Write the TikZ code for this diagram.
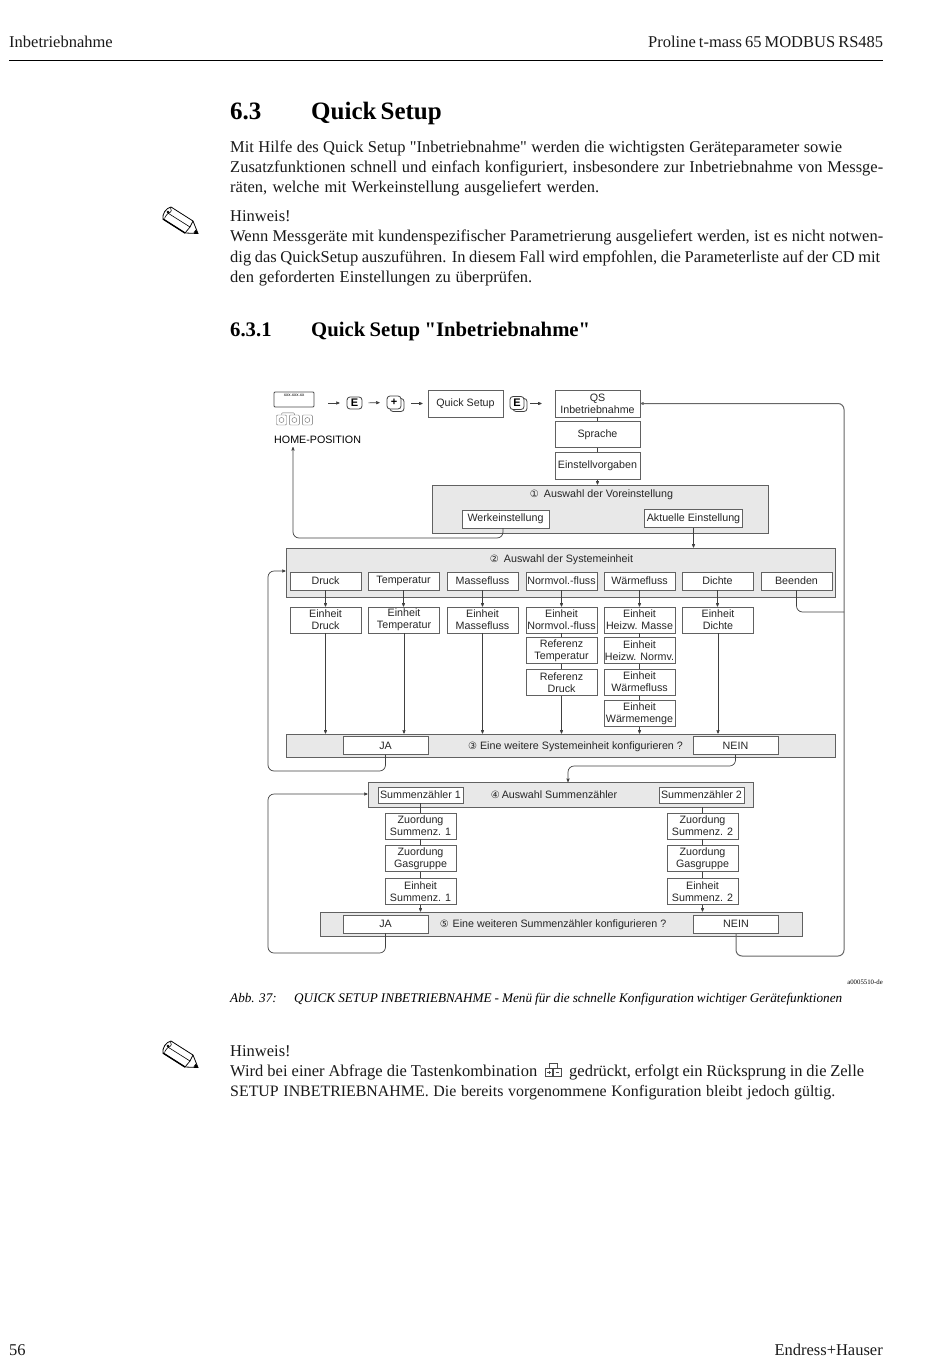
\documentclass[tikz,border=0pt]{standalone}
\usepackage{fontspec}
\setmainfont{Liberation Serif}[Ligatures=TeXOff]
\setsansfont{Liberation Sans}
\newfontfamily\circfont{DejaVu Sans}
\usetikzlibrary{positioning,arrows.meta}
\newcommand{\fitline}[2]{\makebox[#1pt][s]{#2}}
\newcommand{\circnum}[1]{{\circfont\fontsize{10}{12}\selectfont #1}}
\begin{document}
\begin{tikzpicture}[
x=1pt, y=-1pt,
font=\sffamily\fontsize{10.7}{12}\selectfont,
linegray/.style={draw=black!62, line width=0.8pt},
panel/.style={linegray, fill=black!9, inner sep=0pt},
whitebox/.style={linegray, fill=white, inner sep=0pt, align=center, text=black!85},
unitbox/.style={whitebox, minimum width=71pt, minimum height=26pt},
keybox/.style={whitebox, minimum width=71pt, minimum height=18pt},
ansbox/.style={whitebox, minimum width=85pt, minimum height=18pt},
paneltext/.style={inner sep=0pt, text=black!85, text height=8pt, text depth=2.5pt},
button/.style={draw=black!75, fill=white, rounded corners=3pt, line width=0.8pt, inner sep=0pt, font=\sffamily\bfseries\fontsize{11}{12}\selectfont},
bodyline/.style={anchor=base west, inner sep=0pt, font=\rmfamily\fontsize{16.5}{20}\selectfont, text=black!90},
headline/.style={anchor=base west, inner sep=0pt, font=\rmfamily\bfseries\fontsize{25}{28}\selectfont},
subheadline/.style={anchor=base west, inner sep=0pt, font=\rmfamily\bfseries\fontsize{20.7}{24}\selectfont},
capline/.style={anchor=base west, inner sep=0pt, font=\rmfamily\itshape\fontsize{13.2}{15}\selectfont},
flow/.style={draw=black!75, line width=0.7pt, rounded corners=6pt},
post/.style={flow, -{Stealth[length=5pt,width=4pt,round=false]}},
pencil/.pic={
  \draw[line width=0.8pt, fill=white] (8,0) -- (30,14) -- (35,26.5) -- (22,26) -- (0,12)
     .. controls (-1,7) and (3,1) .. (8,0) -- cycle;
  \draw[line width=0.6pt] (4,5.5) -- (27,20);
  \draw[line width=0.6pt] (1.5,11.5) .. controls (3,8) and (5,6) .. (7.5,5) (7.5,0.5) .. controls (9,3) and (8,5) .. (7.5,5);
  \draw[line width=1.4pt] (0,12) -- (22,26);
  \fill (35,26.5) -- (30.5,25.5) -- (33,22.5) -- cycle;
  \draw[line width=0.7pt] (30,14) -- (27,20) -- (22,26);
  \fill (5,5) circle (1.3pt);
},
]
\useasboundingbox (0,0) rectangle (950,1370);

% page header
\node[bodyline] (headleft) at (9,48) {Inbetriebnahme};
\node[bodyline] (headright) at (648,48) {\fitline{235}{Proline t-mass 65 MODBUS RS485}};
\draw[line width=1pt] (9,61) -- (883,61);

% text above
\node[headline] (secnum) at (230,120) {6.3};
\node[headline] (sectitle) at (311,120) {\fitline{127}{Quick Setup}};
\node[bodyline] (introa) at (230,152.5) {\fitline{612}{Mit Hilfe des Quick Setup "Inbetriebnahme" werden die wichtigsten Geräteparameter sowie}};
\node[bodyline] (introb) at (230,172.5) {\fitline{653}{Zusatzfunktionen schnell und einfach konfiguriert, insbesondere zur Inbetriebnahme von Messge-}};
\node[bodyline] (introc) at (230,192.5) {\fitline{369}{räten, welche mit Werkeinstellung ausgeliefert werden.}};
\pic at (163,207) {pencil};
\node[bodyline] (hinta) at (230,221.5) {Hinweis!};
\node[bodyline] (hintb) at (230,241.5) {\fitline{653}{Wenn Messgeräte mit kundenspezifischer Parametrierung ausgeliefert werden, ist es nicht notwen-}};
\node[bodyline] (hintc) at (230,262) {\fitline{650}{dig das QuickSetup auszuführen. In diesem Fall wird empfohlen, die Parameterliste auf der CD mit}};
\node[bodyline] (hintd) at (230,282.5) {\fitline{302}{den geforderten Einstellungen zu überprüfen.}};
\node[subheadline] (subnum) at (230,336) {6.3.1};
\node[subheadline] (subtitle) at (311,336) {\fitline{279}{Quick Setup "Inbetriebnahme"}};

% panels
\node[panel, minimum width=336pt, minimum height=48pt] (panelA) at (600,509) {};
\node[panel, minimum width=549pt, minimum height=49pt] (panelB) at (560.5,572.5) {};
\node[panel, minimum width=549pt, minimum height=23pt] (panelC) at (560.5,745.5) {};
\node[panel, minimum width=385pt, minimum height=25pt] (panelD) at (560.5,794.5) {};
\node[panel, minimum width=482pt, minimum height=24pt] (panelE) at (561,924) {};
\node[paneltext] (titleA) at (601.5,495) {\circnum{①}\hspace{5pt}Auswahl der Voreinstellung};
\node[paneltext] (titleB) at (561.5,560) {\circnum{②}\hspace{5pt}Auswahl der Systemeinheit};
\node[paneltext] (titleC) at (575.5,747) {\circnum{③}\hspace{3pt}Eine weitere Systemeinheit konfigurieren ?};
\node[paneltext] (titleD) at (554,796) {\circnum{④}\hspace{2pt}Auswahl Summenzähler};
\node[paneltext] (titleE) at (553,925) {\circnum{⑤}\hspace{4pt}Eine weiteren Summenzähler konfigurieren ?};

% top row
\node[draw=black!70, fill=white, rounded corners=1pt, minimum width=40pt, minimum height=15pt, inner sep=0pt, line width=0.8pt] (display) at (294,399.5) {};
\node[inner sep=0pt, font=\sffamily\fontsize{4.5}{5}\selectfont] (displaytext) at (294,395) {xxx.xxx.xx};
\node[draw=black!60, rounded corners=1pt, minimum size=10pt, inner sep=0pt] (keyA) at (281.5,420) {};
\node[draw=black!60, rounded corners=1pt, minimum size=10pt, inner sep=0pt, right=2.5pt of keyA] (keyB) {};
\node[draw=black!60, rounded corners=1pt, minimum size=10pt, inner sep=0pt, right=2.5pt of keyB] (keyC) {};
\foreach \k in {keyA,keyB,keyC} \draw[draw=black!60] (\k) circle (2.5pt);
\draw[draw=black!60, rounded corners=1pt] (keyA.north) -- ++(0,-2) -- ++(13,0) -- (keyB.north);
\node[inner sep=0pt, anchor=west] (home) at (274,440) {HOME-POSITION};
\node[button, minimum width=15pt, minimum height=12pt] (enterA) at (354.5,403) {E};
\node[button, minimum width=14pt, minimum height=13pt] (plusb) at (397,405) {};
\node[button, minimum width=14pt, minimum height=13pt] (plus) at (394,402.5) {+};
\node[button, minimum width=14pt, minimum height=13pt] (enterBb) at (520,405) {};
\node[button, minimum width=14pt, minimum height=13pt] (enterB) at (517,403) {E};
\node[keybox, minimum width=75pt, minimum height=27pt] (quick) at (465.5,403.5) {Quick Setup};
\node[whitebox, minimum width=85pt, minimum height=27pt] (qsinbetrieb) at (597.5,403.5) {QS\\Inbetriebnahme};
\node[whitebox, minimum width=85pt, minimum height=26pt, below=4pt of qsinbetrieb] (sprache) {Sprache};
\node[whitebox, minimum width=85pt, minimum height=27pt, below=4pt of sprache] (vorgaben) {Einstellvorgaben};
\node[whitebox, minimum width=87pt, minimum height=18pt] (werk) at (505.5,519) {Werkeinstellung};
\node[whitebox, minimum width=98pt, minimum height=18pt] (aktuell) at (693.5,518.5) {Aktuelle Einstellung};

% system units
\node[keybox] (druck) at (325.5,581) {Druck};
\node[keybox] (temp) at (403.5,581) {Temperatur};
\node[keybox] (masse) at (482.5,581) {Massefluss};
\node[keybox] (normvol) at (561.5,581) {Normvol.-fluss};
\node[keybox] (waerme) at (639.5,581) {Wärmefluss};
\node[keybox] (dichte) at (717.5,581) {Dichte};
\node[keybox] (beenden) at (796.5,581) {Beenden};
\node[unitbox] (eDruck) at (325.5,620) {Einheit\\Druck};
\node[unitbox] (eTemp) at (404,620) {Einheit\\Temperatur};
\node[unitbox] (eMasse) at (482.5,620) {Einheit\\Massefluss};
\node[unitbox] (eNorm) at (561.5,620) {Einheit\\Normvol.-fluss};
\node[unitbox, below=4pt of eNorm] (refTemp) {Referenz\\Temperatur};
\node[unitbox, below=5pt of refTemp] (refDruck) {Referenz\\Druck};
\node[unitbox] (eHeizM) at (639.5,620) {Einheit\\Heizw. Masse};
\node[unitbox, below=4pt of eHeizM] (eHeizN) {Einheit\\Heizw. Normv.};
\node[unitbox, below=4.5pt of eHeizN] (eWaerme) {Einheit\\Wärmefluss};
\node[unitbox, below=4.5pt of eWaerme] (eMenge) {Einheit\\Wärmemenge};
\node[unitbox] (eDichte) at (718,620) {Einheit\\Dichte};
\node[ansbox] (jaA) at (385.5,745.5) {JA};
\node[ansbox] (neinA) at (735.5,745.5) {NEIN};

% totalizers
\node[ansbox, minimum height=16pt] (sumA) at (420.5,795) {Summenzähler 1};
\node[ansbox, minimum height=16pt] (sumB) at (701.5,795) {Summenzähler 2};
\node[unitbox] (zuordA) at (420.5,826) {Zuordung\\Summenz. 1};
\node[unitbox, below=6pt of zuordA] (gasA) {Zuordung\\Gasgruppe};
\node[unitbox, below=6pt of gasA] (eSumA) {Einheit\\Summenz. 1};
\node[unitbox] (zuordB) at (702.5,826) {Zuordung\\Summenz. 2};
\node[unitbox, below=6pt of zuordB] (gasB) {Zuordung\\Gasgruppe};
\node[unitbox, below=6pt of gasB] (eSumB) {Einheit\\Summenz. 2};
\node[ansbox] (jaB) at (385.5,924) {JA};
\node[ansbox] (neinB) at (736,924) {NEIN};

% free ends on the panels
\coordinate (panelBin) at (panelB.west |- 0,571);
\coordinate (panelDin) at (panelD.west |- 0,794);
\coordinate (panelDtop) at (568,782);
\coordinate (qsin) at (qsinbetrieb.east);
\coordinate (homeup) at (293,447);
\coordinate (werkout) at (503,528);
\coordinate (aktuellin) at (aktuell.south |- panelB.north);

% connectors
\draw[post, shorten <=14pt, shorten >=7pt] (display.east |- enterA) -- (enterA);
\draw[post, shorten <=6pt, shorten >=7pt] (enterA.east) -- (plus.west);
\draw[post, shorten <=10pt, shorten >=5pt] (plus.east |- quick) -- (quick.west);
\draw[post, shorten <=3pt, shorten >=13pt] (enterBb.east |- qsinbetrieb) -- (qsinbetrieb.west);
\draw[flow] (qsinbetrieb) -- (sprache);
\draw[flow] (sprache) -- (vorgaben);
\draw[post] (vorgaben.south) -- (vorgaben.south |- panelA.north);
\draw[post] (werkout) -- (503,538) -- (293,538) -- (homeup);
\draw[post] (aktuell.south) -- (aktuellin);
\foreach \a/\b in {druck/eDruck,temp/eTemp,masse/eMasse,normvol/eNorm,waerme/eHeizM,dichte/eDichte}
  \draw[post] (\a.south) -- (\a.south |- \b.north);
\foreach \a in {eDruck,eTemp,eMasse,refDruck,eMenge,eDichte}
  \draw[post] (\a.south) -- (\a.south |- panelC.north);
\foreach \a/\b in {eNorm/refTemp,refTemp/refDruck,eHeizM/eHeizN,eHeizN/eWaerme,eWaerme/eMenge,
  zuordA/gasA,gasA/eSumA,zuordB/gasB,gasB/eSumB}
  \draw[flow] (\a.south) -- (\b.north);
\draw[flow] (sumA.south) -- (zuordA.north);
\draw[flow] (zuordB.north |- panelD.south) -- (zuordB.north);
\foreach \a in {eSumA,eSumB}
  \draw[post] (\a.south) -- (\a.south |- panelE.north);
\draw[post] (jaA.south) -- (385.5,771) -- (268,771) -- (268,571) -- (panelBin);
\draw[post] (neinA.south) -- (735.5,766) -- (568,766) -- (panelDtop);
\draw[post] (jaB.south) -- (385.5,953) -- (268,953) -- (268,794) -- (panelDin);
\draw[post, draw=black!60, line width=1pt] (neinB.south) -- (736,956) -- (844,956) -- (844,403.5) -- (qsin);
\draw[flow] (beenden.south) -- (796.5,612) -- (844,612);

\node[inner sep=0pt, anchor=base east, font=\rmfamily\fontsize{6.8}{8}\selectfont] (imgref) at (883,984) {a0005510-de};

% text below
\node[capline] (capnum) at (230,1002) {Abb. 37:};
\node[capline] (captext) at (294,1002) {\fitline{548}{QUICK SETUP INBETRIEBNAHME - Menü für die schnelle Konfiguration wichtiger Gerätefunktionen}};
\pic at (163,1041) {pencil};
\node[bodyline] (notea) at (230,1056) {Hinweis!};
\node[bodyline] (noteb) at (230,1076) {\fitline{307}{Wird bei einer Abfrage die Tastenkombination}};
\node[bodyline] (notec) at (569,1076) {\fitline{295}{gedrückt, erfolgt ein Rücksprung in die Zelle}};
\node[bodyline] (noted) at (230,1096) {\fontsize{15.9}{20}\selectfont\fitline{605}{SETUP INBETRIEBNAHME. Die bereits vorgenommene Konfiguration bleibt jedoch gültig.}};
\begin{scope}[draw=black!70, line width=0.5pt]
  \draw (549,1063.5) rectangle (557,1068.5);
  \draw (545,1068.5) rectangle (552.5,1076);
  \draw (553.5,1068.5) rectangle (561,1076);
  \draw (547,1072.2) -- (550.5,1072.2) (548.75,1070.5) -- (548.75,1074) (555.5,1072.2) -- (559,1072.2);
\end{scope}

% page footer
\node[bodyline] (pagenum) at (9,1355) {56};
\node[bodyline, anchor=base east] (maker) at (883,1355) {Endress+Hauser};

%
\end{tikzpicture}
\end{document}
